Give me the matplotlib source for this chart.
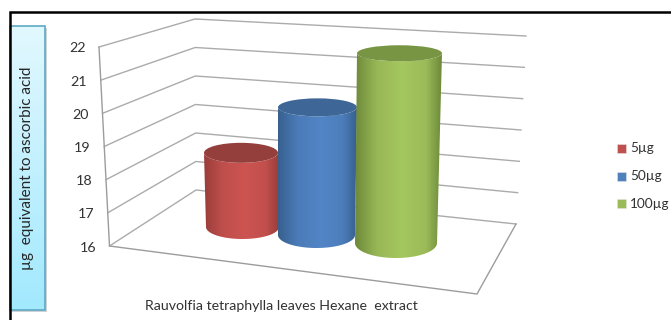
import numpy as np
import matplotlib
matplotlib.use("Agg")
import matplotlib.pyplot as plt
from matplotlib.colors import LinearSegmentedColormap
from matplotlib.patches import PathPatch, Rectangle, Ellipse
from matplotlib.path import Path

plt.rcParams["font.family"] = ["Lato", "DejaVu Sans"]

# Chart data
doses = ["5µg", "50µg", "100µg"]
readings = [18.15, 19.7, 21.5]
axis_ticks = [16, 17, 18, 19, 20, 21, 22]
x_label = "Rauvolfia tetraphylla leaves Hexane  extract"
y_label = "µg  equivalent to ascorbic acid"

# Colours per series: legend swatch, light side, dark side, top cap
swatch = ["#C0504D", "#4F81BD", "#9BBB59"]
side_light = ["#CC5451", "#5285C6", "#A5C75F"]
side_dark = ["#9A3E3B", "#37608F", "#6E8A3A"]
cap = ["#953F3D", "#3E6797", "#789544"]

# Oblique projection of the chart box, in pixels
wall_left_bottom = np.array([109.5, 246.0])
wall_left_top = np.array([99.0, 47.0])
wall_back_bottom = np.array([196.0, 190.0])
wall_back_top = np.array([195.0, 19.0])
wall_right_bottom = np.array([516.0, 224.0])
wall_right_top = np.array([526.0, 36.0])
floor_front = np.array([477.0, 294.0])
GRID = "#ABABAB"

# Cylinder placement: base centre x, top centre x, base radii, top radii, base y
base_cx = [242.5, 316.5, 396.0]
top_cx = [241.0, 317.5, 399.5]
base_rx = [36.5, 38.5, 41.0]
top_rx = [37.0, 39.5, 42.5]
base_ry = [12.0, 13.0, 15.0]
top_ry = [10.0, 9.0, 8.0]
base_y = [227.0, 235.0, 243.0]
PX_PER_UNIT = 34.5
AXIS_MIN = axis_ticks[0]

fig = plt.figure(figsize=(6.71, 3.2), dpi=100)
ax = fig.add_axes([0, 0, 1, 1])


def wall_point(a, b, value):
    f = (value - axis_ticks[0]) / (axis_ticks[-1] - axis_ticks[0])
    return a + (b - a) * f


# Walls and gridlines
for tick in axis_ticks:
    left = wall_point(wall_left_bottom, wall_left_top, tick)
    back = wall_point(wall_back_bottom, wall_back_top, tick)
    right = wall_point(wall_right_bottom, wall_right_top, tick)
    ax.plot([left[0], back[0], right[0]], [left[1], back[1], right[1]],
            color=GRID, lw=1.0, solid_joinstyle="miter", zorder=1)
    ax.text(left[0] - 13.5, left[1] + 1.5, str(tick), ha="right", va="center",
            fontsize=10.3, color="#333333")

ax.plot([wall_left_top[0], wall_left_bottom[0], floor_front[0], wall_right_bottom[0]],
        [wall_left_top[1], wall_left_bottom[1], floor_front[1], wall_right_bottom[1]],
        color="#9C9C9C", lw=1.0, solid_joinstyle="miter", zorder=1)


def arc(cx, cy, rx, ry, start, stop, n=60):
    t = np.linspace(start, stop, n)
    return np.column_stack([cx + rx * np.cos(t), cy + ry * np.sin(t)])


def blend(c1, c2, f):
    a = np.array(matplotlib.colors.to_rgb(c1))
    b = np.array(matplotlib.colors.to_rgb(c2))
    return tuple(a + (b - a) * f)


# Cylinders, drawn left to right so later ones overlap earlier ones
for i, value in enumerate(readings):
    top_y = base_y[i] - (value - AXIS_MIN) * PX_PER_UNIT
    lower = arc(base_cx[i], base_y[i], base_rx[i], base_ry[i], np.pi, 0)
    upper = arc(top_cx[i], top_y, top_rx[i], top_ry[i], 0, np.pi)
    outline = np.vstack([lower, upper, lower[:1]])
    side = PathPatch(Path(outline), fc="none", ec="none", transform=ax.transData)
    ax.add_patch(side)

    cmap = LinearSegmentedColormap.from_list(
        "side", [(0, side_dark[i]),
                 (0.25, blend(side_dark[i], side_light[i], 0.75)),
                 (0.55, side_light[i]),
                 (0.82, blend(side_dark[i], side_light[i], 0.8)),
                 (1, side_dark[i])])
    x0 = min(base_cx[i] - base_rx[i], top_cx[i] - top_rx[i])
    x1 = max(base_cx[i] + base_rx[i], top_cx[i] + top_rx[i])
    shade = ax.imshow(np.linspace(0, 1, 128)[None, :], cmap=cmap, aspect="auto",
                      extent=(x0, x1, base_y[i] + base_ry[i] + 1, top_y - top_ry[i] - 1),
                      interpolation="bilinear", zorder=2 + i)
    shade.set_clip_path(side)
    ax.add_patch(Ellipse((top_cx[i], top_y), 2 * top_rx[i], 2 * top_ry[i],
                         fc=cap[i], ec="none", zorder=2 + i + 0.5))

# Axis title box with a soft shadow and a vertical gradient
ax.add_patch(Rectangle((10, 28), 37, 284, fc="#9AA7AD", ec="none", alpha=0.5, zorder=5))
box_cmap = LinearSegmentedColormap.from_list("box", ["#E2F8FE", "#A2E9FF"])
ax.imshow(np.linspace(0, 1, 128)[:, None], cmap=box_cmap, aspect="auto",
          extent=(10, 45, 310, 26), zorder=6)
ax.add_patch(Rectangle((10, 26), 35, 284, fc="none", ec="#5FA9C4", lw=1.2, zorder=7))
ax.text(27.5, 168.5, y_label, rotation=90, ha="center", va="center",
        fontsize=11, color="#262626", zorder=8)

# Category label
ax.text(281, 306, x_label, ha="center", va="center", fontsize=10.2, color="#333333")

# Legend
for label, colour, y in zip(doses, swatch, [148.5, 176, 203.5]):
    ax.add_patch(Rectangle((617, y - 4.5), 9, 9, fc=colour, ec="#E4E4E4", lw=0.4))
    ax.text(630, y, label, ha="left", va="center", fontsize=9.8, color="#333333")

# Outer frame, open on the right and at the bottom
ax.plot([671, 9.5, 9.5], [12, 12, 320], color="black", lw=1.8,
        solid_joinstyle="miter", zorder=9)

ax.set_xlim(0, 671)
ax.set_ylim(320, 0)
ax.axis("off")
fig.savefig("out.png", dpi=100, facecolor="white")
